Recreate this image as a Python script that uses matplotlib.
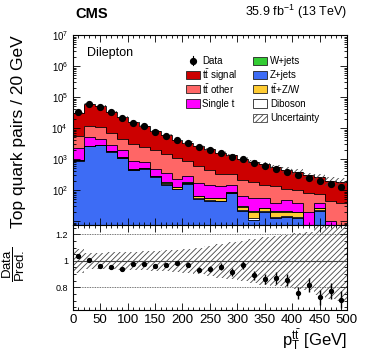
import matplotlib
matplotlib.use('Agg')
import matplotlib.pyplot as plt
import numpy as np
from matplotlib.patches import Rectangle
from matplotlib.ticker import MultipleLocator, LogLocator, NullFormatter

plt.rcParams['font.family'] = ['Liberation Sans', 'DejaVu Sans']
plt.rcParams['mathtext.fontset'] = 'custom'
plt.rcParams['mathtext.rm'] = 'Liberation Sans'
plt.rcParams['mathtext.it'] = 'Liberation Sans:italic'
plt.rcParams['mathtext.bf'] = 'Liberation Sans:bold'
plt.rcParams['hatch.linewidth'] = 0.6

# 20 GeV bins, 0 - 500 GeV
edges = np.arange(0, 520, 20)

# events per bin
data = [32500, 60000, 49000, 32500, 21000, 14800, 11300, 7600, 5650, 4200,
        3300, 2450, 1950, 1550, 1210, 1000, 740, 605, 470, 385,
        300, 245, 197, 153, 129]
ratio_err = [0.005, 0.004, 0.005, 0.006, 0.007, 0.008, 0.009, 0.011, 0.013, 0.015,
             0.017, 0.019, 0.021, 0.025, 0.028, 0.031, 0.034, 0.038, 0.042, 0.045,
             0.045, 0.052, 0.055, 0.063, 0.065]

tt_signal = [25650, 47500, 40300, 27300, 17950, 12200, 9170, 5900, 4390, 3205,
             2550, 2010, 1645, 1290, 1000, 825, 650, 550, 400, 340,
             297, 222, 196, 155, 144]
tt_other = [3400, 7000, 6300, 4000, 2550, 2130, 1590, 1510, 1085, 816,
            565, 447, 280, 190, 170, 138, 125, 95, 101, 62,
            61, 58, 37, 33, 36]
single_t = [1270, 2340, 1540, 1000, 760, 400, 290, 195, 170, 104,
            104, 106, 93, 83, 61, 36.5, 34.5, 28, 18, 27,
            19, 16.5, 12.5, 7.7, 0]
w_jets = [8, 15, 12, 10, 8, 6, 5, 5, 20, 4,
          5, 3, 2, 2, 2, 1, 1, 1, 1, 1,
          1, 0, 0, 0, 0]
z_jets = [900, 2600, 2800, 1750, 1100, 435, 495, 270, 150, 105,
          160, 52, 45, 44, 78, 21, 11, 20, 13, 14,
          13, 0, 22, 0, 0]
ttzw = [10, 20, 22, 20, 18, 25, 12, 15, 10, 18,
        12, 9, 8, 9, 7, 7, 7, 5, 6, 5,
        5, 3, 4, 2, 2]
diboson = [12, 25, 25, 20, 14, 8, 8, 5, 4, 3,
           4, 3, 2, 2, 2, 1.5, 1.5, 1, 1, 1,
           1, 0.5, 0.5, 0.3, 0.3]

# relative systematic uncertainty of the prediction
rel_unc = [0.088, 0.062, 0.062, 0.064, 0.066, 0.068, 0.072, 0.076, 0.08, 0.085,
           0.09, 0.10, 0.115, 0.13, 0.14, 0.15, 0.165, 0.18, 0.19, 0.195,
           0.21, 0.22, 0.26, 0.29, 0.30]

c_signal = '#cc0000'
c_other = '#ff6666'
c_single = '#ff00ff'
c_wjets = '#33cc33'
c_zjets = '#3d6cf5'
c_ttzw = '#ffcc33'
c_dib = 'white'
c_hatch = '#444444'
HATCH = '//////'

# bottom -> top
stack = [(z_jets, c_zjets), (diboson, c_dib), (ttzw, c_ttzw), (w_jets, c_wjets),
         (single_t, c_single), (tt_other, c_other), (tt_signal, c_signal)]

cum = np.cumsum([np.array(v, dtype=float) for v, _ in stack], axis=0)
total = cum[-1]
rel = np.array(rel_unc)
data = np.array(data, dtype=float)
ratio = data / total
ratio_err = np.array(ratio_err)
centers = edges[:-1] + 10

fig = plt.figure(figsize=(3.66, 3.51), dpi=100)
ax = fig.add_axes([0.199, 0.359, 0.749, 0.541])
rax = fig.add_axes([0.199, 0.117, 0.749, 0.242], sharex=ax)

# stacked histograms, largest first
for i in range(len(stack) - 1, -1, -1):
    ax.stairs(cum[i], edges, baseline=1e-3, fill=True, facecolor=stack[i][1], edgecolor='none')
for i in range(len(stack) - 1, -1, -1):
    ax.stairs(cum[i], edges, baseline=None, color='black', lw=0.6)

ax.stairs(total * (1 + rel), edges, baseline=total * (1 - rel), fill=True,
          facecolor='none', edgecolor=c_hatch, hatch=HATCH, lw=0)

ax.errorbar(centers, data, yerr=ratio_err * total, fmt='o', color='black',
            ms=4.2, elinewidth=0.8, capsize=0)

ax.set_yscale('log')
ax.set_xlim(0, 500)
ax.set_ylim(7.5, 1e7)
ax.set_yticks([10, 1e2, 1e3, 1e4, 1e5, 1e6, 1e7],
              ['', '$10^{2}$', '$10^{3}$', '$10^{4}$', '$10^{5}$', '$10^{6}$', '$10^{7}$'])
ax.yaxis.set_minor_locator(LogLocator(base=10, subs=np.arange(2, 10), numticks=20))
ax.yaxis.set_minor_formatter(NullFormatter())
ax.xaxis.set_major_locator(MultipleLocator(50))
ax.xaxis.set_minor_locator(MultipleLocator(10))
ax.tick_params(which='both', direction='in', top=True, right=True, labelbottom=False,
               labelsize=7, width=0.6)
ax.tick_params(which='major', length=5)
ax.tick_params(which='minor', length=2.5)
ax.set_ylabel('Top quark pairs / 20 GeV', fontsize=12.5, loc='top')
ax.yaxis.set_label_coords(-0.17, 1.0)
ax.text(0.05, 0.905, 'Dilepton', transform=ax.transAxes, fontsize=9, va='center')

fig.text(0.206, 0.94, 'CMS', fontsize=10.5, fontweight='bold', va='bottom')
fig.text(0.948, 0.94, r'35.9 fb$^{-1}$ (13 TeV)', fontsize=9, va='bottom', ha='right')

# legend, drawn in pixel coordinates of the figure
lax = fig.add_axes([0, 0, 1, 1], zorder=5)
lax.set_xlim(0, 366)
lax.set_ylim(351, 0)
lax.axis('off')

col1 = [(None, 'Data'),
        (c_signal, r'$\mathrm{t\bar{t}}$ signal'),
        (c_other, r'$\mathrm{t\bar{t}}$ other'),
        (c_single, 'Single t')]
col2 = [(c_wjets, 'W+jets'),
        (c_zjets, 'Z+jets'),
        (c_ttzw, r'$\mathrm{t\bar{t}}$+Z/W'),
        (c_dib, 'Diboson'),
        ('hatch', 'Uncertainty')]
row_y = 60.7
row_dy = 14.3
bw, bh = 14.0, 8.3
for x0, entries in [(185.7, col1), (253.3, col2)]:
    for k, (col, lab) in enumerate(entries):
        yc = row_y + k * row_dy
        if col is None:
            lax.plot([x0 + bw / 2] * 2, [yc - 4.5, yc + 4.5], color='black', lw=0.8)
            lax.plot(x0 + bw / 2, yc, 'o', color='black', ms=4.2)
        elif col == 'hatch':
            lax.add_patch(Rectangle((x0, yc - bh / 2), bw, bh, facecolor='white',
                                    edgecolor=c_hatch, hatch=HATCH, lw=0.6))
        else:
            lax.add_patch(Rectangle((x0, yc - bh / 2), bw, bh, facecolor=col,
                                    edgecolor='#222222', lw=0.6))
        lax.text(x0 + bw + 2.5, yc, lab, fontsize=7, va='center', ha='left')

# ratio panel
rax.stairs(1 + rel, edges, baseline=1 - rel, fill=True, facecolor='none',
           edgecolor=c_hatch, hatch=HATCH, lw=0)
rax.axhline(1, color='#444444', lw=0.8)
rax.axhline(0.8, color='#444444', lw=0.6, ls=(0, (1, 1)))
rax.axhline(1.2, color='#444444', lw=0.6, ls=(0, (1, 1)))
rax.errorbar(centers, ratio, yerr=ratio_err, fmt='o', color='black', ms=2.8,
             elinewidth=1.0, capsize=0)
rax.set_ylim(0.63, 1.27)
rax.set_yticks([0.8, 1.0, 1.2], ['0.8', '1', '1.2'])
rax.yaxis.set_minor_locator(MultipleLocator(0.05))
rax.tick_params(which='both', direction='in', top=True, right=True, width=0.6)
rax.tick_params(axis='y', labelsize=6.5)
rax.tick_params(axis='x', labelsize=9.5, pad=3)
rax.tick_params(which='major', length=5)
rax.tick_params(which='minor', length=2.5)
rax.set_ylabel(r'$\dfrac{\mathrm{Data}}{\mathrm{Pred.}}$', fontsize=9.5)
rax.yaxis.set_label_coords(-0.168, 0.54)
rax.set_xlabel(r'$\mathrm{p}_{\mathrm{T}}^{\mathrm{t\bar{t}}}$ [GeV]', fontsize=12, loc='right', labelpad=1)

fig.savefig('out.png', dpi=100)
